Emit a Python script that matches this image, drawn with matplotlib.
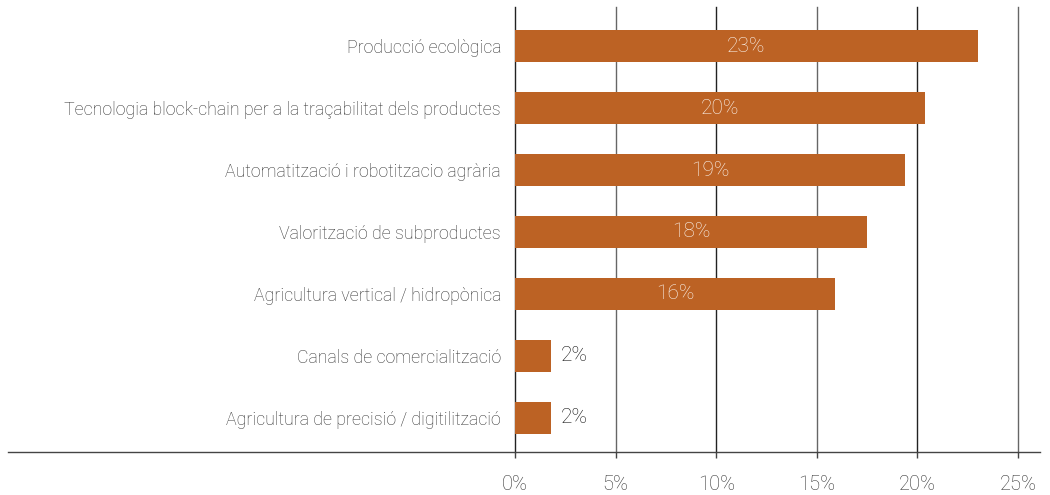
import numpy as np
import matplotlib.pyplot as plt
from matplotlib.lines import Line2D

categories = [
    "Producció ecològica",
    "Tecnologia block-chain per a la traçabilitat dels productes",
    "Automatització i robotitzacio agrària",
    "Valorització de subproductes",
    "Agricultura vertical / hidropònica",
    "Canals de comercialització",
    "Agricultura de precisió / digitilització",
]
values = [23.0, 20.4, 19.4, 17.5, 15.9, 1.8, 1.8]
xticks = [0, 5, 10, 15, 20, 25]

BAR = "#bc6224"
TXT = "#333333"
FONT = "Roboto"
WEIGHT = "light"

fig = plt.figure(figsize=(10.5, 4.95), dpi=100)
ax = fig.add_axes([515 / 1050, 1 - 452 / 495, 503 / 1050, 445 / 495])

y = np.arange(len(categories))
ax.barh(y, values, height=0.52, color=BAR, zorder=3)

ax.set_xlim(0, 25)
ax.set_ylim(6.55, -0.63)

# vertical grid lines at every tick
for t in xticks:
    col = "#222222" if t in (0, 10, 20) else "#666666"
    ax.axvline(t, color=col, lw=1.0, zorder=1, clip_on=False)
for s in ax.spines.values():
    s.set_visible(False)

ax.set_xticks(xticks)
ax.set_xticklabels([f"{t}%" for t in xticks], fontsize=14.5, color=TXT,
                   family=FONT, weight=WEIGHT)
ax.tick_params(axis="x", length=4.5, width=1, color="#444444", pad=12)
ax.set_yticks(y)
ax.set_yticklabels(categories, fontsize=12.8, color=TXT, family=FONT,
                   weight=WEIGHT)
ax.tick_params(axis="y", length=0, pad=10)

# long baseline across the whole figure
fig.add_artist(Line2D([8 / 1050, 1040 / 1050], [1 - 452 / 495] * 2,
                      transform=fig.transFigure, color="#444444", lw=1.0))

for yi, v in zip(y, values):
    lab = f"{round(v):.0f}%"
    if v > 5:
        ax.text(v / 2, yi, lab, ha="center", va="center", color="#fbf4ee",
                fontsize=15, family=FONT, weight=WEIGHT, zorder=4)
    else:
        ax.text(v + 0.45, yi, lab, ha="left", va="center", color="#111111",
                fontsize=15, family=FONT, weight=WEIGHT, zorder=4)

fig.savefig("out.png", dpi=100)
